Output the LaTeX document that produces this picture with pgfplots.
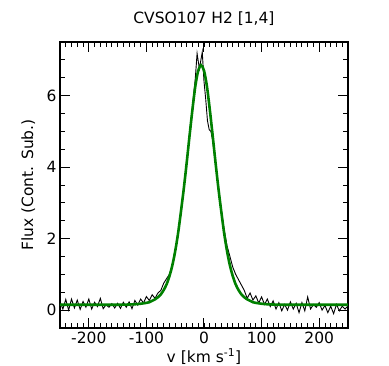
\documentclass[border=0pt]{standalone}
\usepackage{fontspec}
\setmainfont{DejaVu Sans}
\usepackage{pgfplots}
\pgfplotsset{compat=1.18}
\definecolor{fitgreen}{HTML}{008000}

\begin{document}
\begin{tikzpicture}
\path[use as bounding box] (-60pt,-38pt) rectangle (329pt,328pt);
\begin{axis}[
  at={(0,0)}, anchor=south west,
  scale only axis, width=288pt, height=286pt,
  xmin=-250, xmax=250, ymin=-0.5, ymax=7.5,
  xtick={-200,-100,0,100,200}, ytick={0,2,4,6},
  minor xtick={-250,-240,...,250},
  minor ytick={-0.5,0,...,7.5},
  tick align=inside, tick pos=both,
  major tick length=10pt, minor tick length=5pt,
  axis line style={line width=1.2pt},
  major tick style={line width=1pt, black},
  minor tick style={line width=0.9pt, black},
  font=\fontsize{15.5}{18}\selectfont,
  tick label style={font=\fontsize{15.5}{18}\selectfont},
  /pgf/number format/assume math mode=true,
  title={CVSO107 H2 [1,4]},
  title style={at={(axis description cs:0.5,1.06)}, anchor=center},
  xlabel={v [km s\textsuperscript{-1}]},
  xlabel style={at={(axis description cs:0.5,-0.1)}, anchor=center},
  ylabel={Flux (Cont. Sub.)},
  ylabel style={at={(axis description cs:-0.11,0.5)}, anchor=center},
  clip=true,
  ]
\addplot[black, line width=0.9pt] coordinates {
  (-250,0.24) (-245,0.03) (-240,0.30) (-235,0.00) (-230,0.31) (-225,0.06)
  (-220,0.28) (-215,0.02) (-210,0.24) (-205,0.08) (-200,0.31) (-195,0.03)
  (-190,0.22) (-185,0.10) (-180,0.33) (-175,0.04) (-170,0.15) (-165,0.08)
  (-160,0.18) (-155,0.06) (-150,0.19) (-145,0.05) (-140,0.22) (-135,0.08)
  (-130,0.23) (-125,0.04) (-120,0.27) (-115,0.14) (-110,0.31) (-105,0.20)
  (-100,0.38) (-95,0.27) (-90,0.43) (-85,0.33) (-80,0.48) (-75,0.55)
  (-70,0.75) (-65,0.88) (-60,1.00) (-55,1.25) (-50,1.62) (-45,2.10)
  (-40,2.70) (-35,3.38) (-30,4.10) (-25,4.95) (-20,5.70) (-15,6.50)
  (-12,7.18) (-8,6.75) (-3,7.22) (0,6.40) (3,5.90) (6,5.30) (9,5.05)
  (12,5.00) (15,4.75) (20,4.10) (25,3.45) (30,2.80) (35,2.25) (40,1.80)
  (45,1.50) (50,1.20) (55,1.00) (60,0.85) (65,0.70) (70,0.55) (75,0.33)
  (80,0.48) (85,0.28) (90,0.40) (95,0.20) (100,0.37) (105,0.16) (110,0.31)
  (115,0.10) (120,0.26) (125,0.03) (130,0.21) (135,-0.02) (140,0.16)
  (145,0.00) (150,0.23) (155,0.03) (160,0.19) (165,-0.07) (170,0.21)
  (175,-0.02) (180,0.37) (185,0.03) (190,0.16) (195,0.08) (200,0.21)
  (205,0.00) (210,0.13) (215,-0.07) (220,0.11) (225,-0.10) (230,0.16)
  (235,-0.02) (240,0.11) (245,0.03) (250,0.12)};
\addplot[fitgreen, line width=2.6pt, smooth] coordinates {
  (-250,0.15) (-200,0.15) (-150,0.15) (-125,0.16) (-115,0.17) (-105,0.19)
  (-95,0.22) (-90,0.26) (-85,0.30) (-80,0.36) (-75,0.44) (-70,0.56)
  (-65,0.72) (-60,0.95) (-55,1.25) (-50,1.65) (-45,2.15) (-40,2.76)
  (-35,3.41) (-30,4.13) (-25,4.89) (-20,5.62) (-15,6.27) (-10,6.70)
  (-5,6.85) (0,6.70) (5,6.27) (10,5.62) (15,4.89) (20,4.13) (25,3.41)
  (30,2.76) (35,2.15) (40,1.65) (45,1.25) (50,0.95) (55,0.72) (60,0.56)
  (65,0.44) (70,0.36) (75,0.30) (80,0.26) (85,0.22) (95,0.19) (105,0.17)
  (115,0.16) (140,0.15) (200,0.15) (250,0.15)};
\end{axis}
\end{tikzpicture}
\end{document}
